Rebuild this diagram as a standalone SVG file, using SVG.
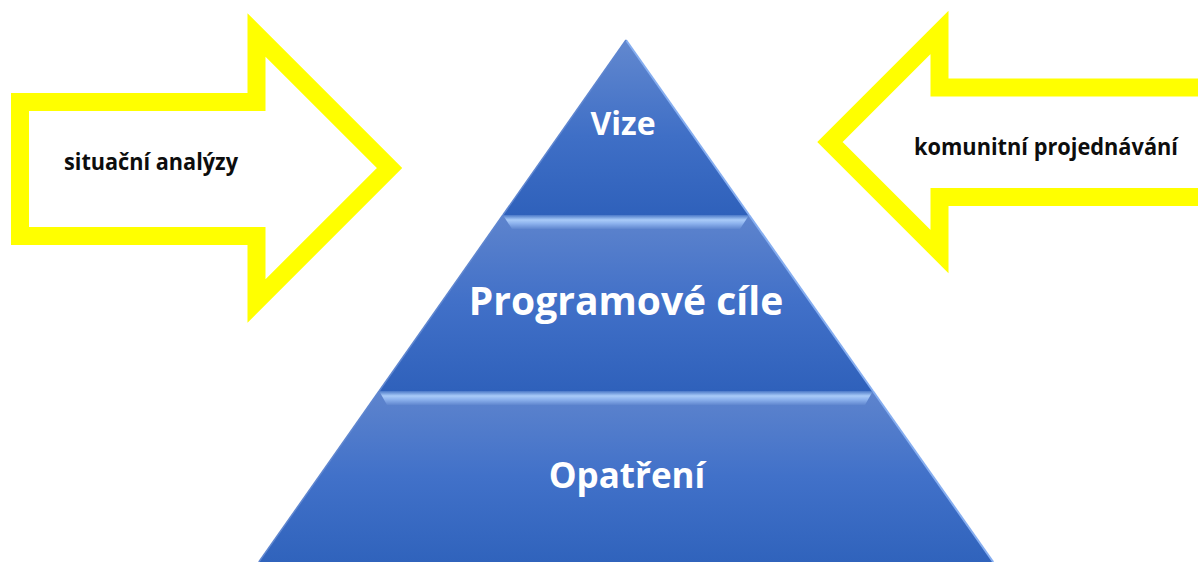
<svg xmlns="http://www.w3.org/2000/svg" width="1198" height="562" viewBox="0 0 1198 562">
  <style>
    .arrow { fill: #ffffff; stroke: #ffff00; stroke-width: 18; stroke-linejoin: miter; stroke-miterlimit: 10; }
    .label { font-family: "Open Sans", "Liberation Sans", sans-serif; font-weight: 700; fill: #0d0d0d; font-size: 23px; }
    .tier-text { font-family: "Open Sans", "Liberation Sans", sans-serif; font-weight: 700; fill: #ffffff; text-anchor: middle; }
    .edge { fill: none; stroke: #86aef0; stroke-width: 2; }
    .edge-l { fill: none; stroke: #5f86d0; stroke-width: 1.5; }
  </style>
  <defs>
    <linearGradient id="gTop" x1="0" y1="40" x2="0" y2="215" gradientUnits="userSpaceOnUse">
      <stop offset="0" stop-color="#6288cf"/>
      <stop offset="0.55" stop-color="#3f6fc6"/>
      <stop offset="1" stop-color="#2f61bb"/>
    </linearGradient>
    <linearGradient id="gMid" x1="0" y1="215" x2="0" y2="391" gradientUnits="userSpaceOnUse">
      <stop offset="0" stop-color="#5e84cd"/>
      <stop offset="0.5" stop-color="#4170c8"/>
      <stop offset="1" stop-color="#2f61bb"/>
    </linearGradient>
    <linearGradient id="gBot" x1="0" y1="391" x2="0" y2="562" gradientUnits="userSpaceOnUse">
      <stop offset="0" stop-color="#5e84cd"/>
      <stop offset="0.5" stop-color="#4171c9"/>
      <stop offset="1" stop-color="#3063bc"/>
    </linearGradient>
    <linearGradient id="gBevel" x1="0" y1="0" x2="0" y2="1">
      <stop offset="0" stop-color="#4a78c8"/>
      <stop offset="0.35" stop-color="#a9cbf8"/>
      <stop offset="0.6" stop-color="#8eb3ee"/>
      <stop offset="1" stop-color="#5f86cf"/>
    </linearGradient>
  </defs>

  <g id="arrow-left">
    <polygon class="arrow" points="20,102 256.5,102 256.5,35 389.5,168 256.5,301 256.5,236 20,236"/>
    <text class="label" x="64" y="170" textLength="174" lengthAdjust="spacingAndGlyphs">situační analýzy</text>
  </g>

  <g id="arrow-right">
    <polygon class="arrow" points="1215,87.5 939.5,87.5 939.5,32.5 830,142 939.5,251.5 939.5,197 1215,197"/>
    <text class="label" x="914" y="155" textLength="264" lengthAdjust="spacingAndGlyphs">komunitní projednávání</text>
  </g>

  <g id="tier-opatreni">
    <polygon points="379.1,391 872.9,391 993.2,562 258.8,562" fill="url(#gBot)"/>
    <polygon points="379.1,391 872.9,391 865,405 387,405" fill="url(#gBevel)"/>
    <line class="edge" x1="872.9" y1="391" x2="993.2" y2="562"/>
    <line class="edge-l" x1="379.1" y1="391" x2="258.8" y2="562"/>
    <text class="tier-text" x="627" y="488" font-size="35">Opatření</text>
  </g>

  <g id="tier-cile">
    <polygon points="502.9,215 749.1,215 872.9,391 379.1,391" fill="url(#gMid)"/>
    <polygon points="502.9,215 749.1,215 740,229 512,229" fill="url(#gBevel)"/>
    <line class="edge" x1="749.1" y1="215" x2="872.9" y2="391"/>
    <line class="edge-l" x1="502.9" y1="215" x2="379.1" y2="391"/>
    <text class="tier-text" x="626" y="315" font-size="39">Programové cíle</text>
  </g>

  <g id="tier-vize">
    <polygon points="626,40 749.1,215 502.9,215" fill="url(#gTop)"/>
    <line class="edge" x1="626" y1="40" x2="749.1" y2="215"/>
    <line class="edge-l" x1="626" y1="40" x2="502.9" y2="215"/>
    <text class="tier-text" x="623" y="135" font-size="32">Vize</text>
  </g>

  <g id="connectors"/>
</svg>
